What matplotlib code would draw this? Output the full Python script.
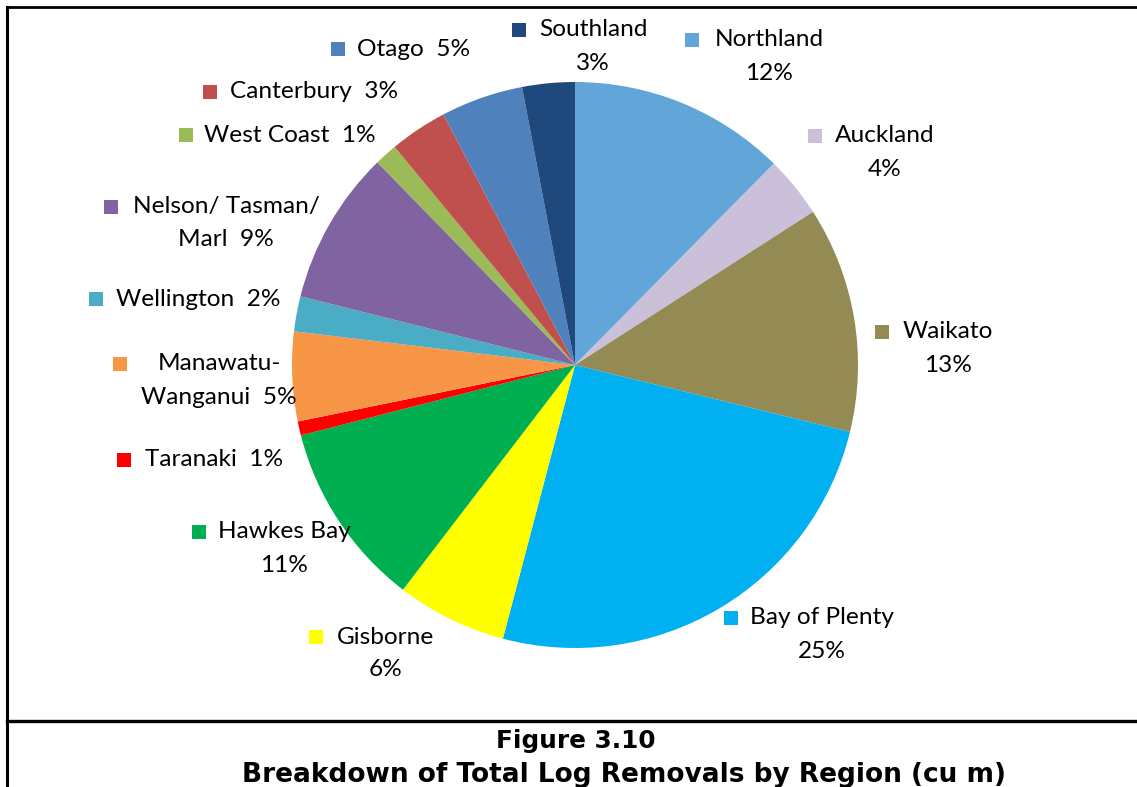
import matplotlib
matplotlib.use("Agg")
import matplotlib.pyplot as plt
from matplotlib.lines import Line2D

# ---------------- data ----------------
regions = ["Northland", "Auckland", "Waikato", "Bay of Plenty", "Gisborne",
           "Hawkes Bay", "Taranaki", "Manawatu-Wanganui", "Wellington",
           "Nelson/ Tasman/ Marl", "West Coast", "Canterbury", "Otago", "Southland"]
shares = [12.4, 3.5, 12.9, 25.3, 6.3, 10.6, 0.8, 5.1, 2.0, 8.8, 1.3, 3.3, 4.7, 3.0]
pct_labels = ["12%", "4%", "13%", "25%", "6%", "11%", "1%", "5%", "2%", "9%",
              "1%", "3%", "5%", "3%"]
colors = ["#62A6D9", "#CBC0DA", "#948A54", "#00B0F0", "#FFFF00", "#00B050",
          "#FF0000", "#F79646", "#4BACC6", "#8064A2", "#9BBB59", "#C0504D",
          "#4F81BD", "#1F497D"]

# ---------------- layout (pixel coords, origin top-left) ----------------
W, H = 1137, 787
fig = plt.figure(figsize=(W / 100, H / 100), dpi=100)
ax = fig.add_axes([0, 0, 1, 1])

cx, cy, R = 575, 365, 283
# y axis is inverted below, so a data-counterclockwise sweep appears clockwise
ax.pie(shares, colors=colors, startangle=-90, counterclock=True,
       center=(cx, cy), radius=R, frame=True,
       wedgeprops=dict(linewidth=0))
ax.set_xlim(0, W)
ax.set_ylim(H, 0)
ax.set_aspect("auto")
ax.axis("off")

# label text layouts: (text lines, text-block center x, first-line y, square x)
label_layout = {
    "Northland": (["Northland", "{p}"], 769, 40, 692),
    "Auckland": (["Auckland", "{p}"], 885, 136, 815),
    "Waikato": (["Waikato", "{p}"], 948, 332, 882),
    "Bay of Plenty": (["Bay of Plenty", "{p}"], 822, 618, 731),
    "Gisborne": (["Gisborne", "{p}"], 386, 637, 316),
    "Hawkes Bay": (["Hawkes Bay", "{p}"], 284, 532, 199),
    "Taranaki": (["Taranaki  {p}"], 214, 460, 124),
    "Manawatu-Wanganui": (["Manawatu-", "Wanganui  {p}"], 219, 364, 120),
    "Wellington": (["Wellington  {p}"], 198, 299, 96),
    "Nelson/ Tasman/ Marl": (["Nelson/ Tasman/", "Marl  {p}"], 226, 207, 111),
    "West Coast": (["West Coast  {p}"], 290, 135, 186),
    "Canterbury": (["Canterbury  {p}"], 314, 92, 210),
    "Otago": (["Otago  {p}"], 414, 49, 338),
    "Southland": (["Southland", "{p}"], 593, 30, 519),
}

FONT = "Lato"
FS = 17.6
LINE = 33
for name, pct, col in zip(regions, pct_labels, colors):
    lines, tx, ty, sx = label_layout[name]
    for i, ln in enumerate(lines):
        ax.text(tx, ty + i * LINE, ln.format(p=pct), ha="center", va="center",
                fontsize=FS, family=FONT, color="black")
    ax.plot([sx], [ty], marker="s", markersize=10.5, color=col,
            markeredgewidth=0, linestyle="none")

# frame lines
fig.add_artist(Line2D([7 / W, 7 / W], [0, 1 - 7 / H], color="black", lw=2.2,
                      transform=fig.transFigure))
fig.add_artist(Line2D([7 / W, 1], [1 - 7 / H, 1 - 7 / H], color="black", lw=2.0,
                      transform=fig.transFigure))
fig.add_artist(Line2D([7 / W, 1], [1 - 721 / H, 1 - 721 / H], color="black", lw=2.4,
                      transform=fig.transFigure))

# caption
ax.text(576, 741, "Figure 3.10", ha="center", va="center", fontsize=17.8,
        fontweight="bold", family="DejaVu Sans")
ax.text(624, 775, "Breakdown of Total Log Removals by Region (cu m)", ha="center",
        va="center", fontsize=19, fontweight="bold", family="DejaVu Sans")

fig.savefig("out.png", dpi=100)
